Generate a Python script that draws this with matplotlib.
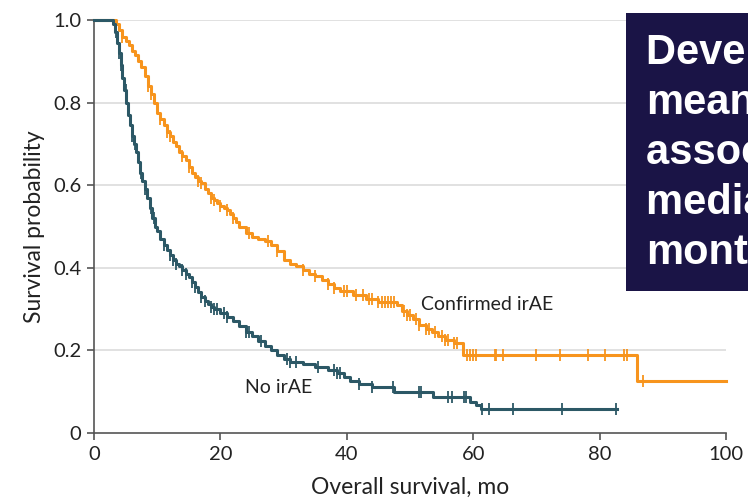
import numpy as np
import matplotlib
matplotlib.use("Agg")
from matplotlib import pyplot as plt
from matplotlib.patches import Rectangle

# Kaplan-Meier step knots (time in months, survival probability)
irae_t = [0, 3.5, 4.0, 4.5, 5.0, 5.5, 6.0, 6.5, 7.0, 7.5, 8.0, 8.5, 9.0, 9.5, 10.0, 10.5,
          11.0, 11.5, 12.0, 12.5, 13.0, 13.5, 14.0, 14.5, 15.0, 15.5, 16.0, 16.5, 17.0,
          17.5, 18.0, 18.5, 19.0, 19.5, 20.0, 20.5, 21.0, 21.5, 22.0, 22.5, 23.0, 24.0,
          25.0, 26.0, 27.0, 28.0, 29.0, 30.0, 31.0, 32.0, 33.0, 34.0, 35.0, 36.0, 37.0,
          38.0, 39.0, 41.0, 43.0, 45.0, 48.0, 48.7, 49.5, 50.5, 51.5, 52.5, 53.5, 54.5,
          55.5, 57.0, 58.4, 85.9, 100.0]
irae_s = [1.0, 0.99, 0.975, 0.96, 0.95, 0.94, 0.925, 0.915, 0.90, 0.885, 0.865, 0.84,
          0.82, 0.80, 0.775, 0.76, 0.745, 0.73, 0.72, 0.705, 0.695, 0.68, 0.67, 0.66,
          0.645, 0.63, 0.62, 0.61, 0.605, 0.59, 0.58, 0.57, 0.565, 0.557, 0.55, 0.545,
          0.54, 0.53, 0.52, 0.51, 0.50, 0.485, 0.475, 0.47, 0.465, 0.455, 0.44, 0.42,
          0.41, 0.405, 0.395, 0.385, 0.38, 0.37, 0.36, 0.35, 0.345, 0.335, 0.325, 0.318,
          0.31, 0.295, 0.285, 0.275, 0.262, 0.252, 0.245, 0.235, 0.225, 0.218, 0.189,
          0.126, 0.126]
irae_cens = [4.5, 8.5, 9.0, 10.5, 11.5, 12.0, 14.0, 15.0, 16.5, 17.0, 18.5, 19.0, 20.0,
             21.0, 22.0, 24.5, 27.5, 29.0, 33.0, 35.0, 37.0, 38.0, 39.5, 40.0, 41.5,
             42.5, 43.5, 44.0, 45.0, 45.5, 46.0, 46.5, 47.0, 47.5, 49.0, 49.5, 50.0,
             51.0, 51.5, 52.5, 53.0, 54.0, 55.0, 55.5, 56.0, 57.0, 57.5, 59.0, 59.5,
             60.0, 60.4, 63.4, 63.6, 64.7, 69.9, 73.7, 78.2, 80.9, 83.9, 84.3, 86.9]

no_t = [0, 3.0, 3.3, 3.6, 3.9, 4.2, 4.5, 4.8, 5.1, 5.4, 5.7, 6.0, 6.3, 6.6, 7.0, 7.3,
        7.6, 8.0, 8.4, 8.8, 9.2, 9.6, 10.0, 10.5, 11.0, 11.5, 12.0, 12.5, 13.0, 13.5,
        14.0, 14.5, 15.0, 15.5, 16.0, 16.5, 17.0, 17.5, 18.0, 18.5, 19.0, 20.0, 21.0,
        22.0, 23.0, 24.0, 25.0, 26.0, 27.0, 28.0, 29.0, 30.0, 31.0, 33.0, 35.0, 37.0,
        38.5, 39.5, 40.5, 42.0, 44.0, 47.5, 53.6, 59.5, 60.5, 61.2, 82.8]
no_s = [1.0, 0.99, 0.97, 0.945, 0.92, 0.89, 0.86, 0.83, 0.80, 0.77, 0.745, 0.72, 0.70,
        0.68, 0.655, 0.63, 0.61, 0.59, 0.57, 0.545, 0.52, 0.50, 0.488, 0.47, 0.455,
        0.443, 0.43, 0.42, 0.41, 0.405, 0.395, 0.385, 0.378, 0.365, 0.353, 0.342, 0.33,
        0.32, 0.312, 0.305, 0.30, 0.29, 0.282, 0.27, 0.258, 0.245, 0.235, 0.222, 0.21,
        0.20, 0.19, 0.178, 0.173, 0.168, 0.16, 0.152, 0.145, 0.135, 0.125, 0.118, 0.112,
        0.10, 0.088, 0.075, 0.068, 0.058, 0.058]
no_cens = [3.5, 4.0, 4.3, 5.0, 6.0, 6.5, 7.5, 8.0, 9.0, 9.5, 11.0, 12.0, 12.5, 13.0,
           14.0, 14.5, 15.5, 16.0, 17.0, 17.5, 18.5, 19.0, 19.5, 20.5, 21.0, 24.0, 24.5,
           26.5, 30.5, 31.0, 32.0, 35.5, 38.0, 38.5, 39.0, 42.0, 44.0, 47.3, 51.4, 51.7,
           56.0, 56.6, 58.5, 58.9, 61.4, 62.5, 66.3, 74.1, 82.6]

xticks = [0, 20, 40, 60, 80, 100]
yticks = [0, 0.2, 0.4, 0.6, 0.8, 1.0]
ytick_labels = ["0", "0.2", "0.4", "0.6", "0.8", "1.0"]

orange = "#F7941D"
teal = "#2C5866"
axis_col = "#555555"
label_font = ["Lato", "DejaVu Sans"]

fig = plt.figure(figsize=(7.48, 5.03), dpi=100)
ax = fig.add_axes([94 / 748, 1 - 433 / 503, 632 / 748, 413 / 503])


def km(t, s, cens, color):
    t = np.array(t)
    s = np.array(s)
    ax.step(t, s, where="post", color=color, lw=2.2, clip_on=False, zorder=3)
    c = np.array(cens)
    idx = np.searchsorted(t, c, side="right") - 1
    ax.plot(c, s[idx], ls="none", marker="|", ms=8, mew=1.3, color=color,
            clip_on=False, zorder=3)


km(irae_t, irae_s, irae_cens, orange)
km(no_t, no_s, no_cens, teal)

ax.set_xlim(0, 100)
ax.set_ylim(0, 1.0)
ax.set_xticks(xticks)
ax.set_yticks(yticks)
ax.set_yticklabels(ytick_labels)
for y in yticks[1:]:
    ax.axhline(y, color="#dcdcdc", lw=1.2, zorder=1)

for side in ["top", "right"]:
    ax.spines[side].set_visible(False)
for side in ["left", "bottom"]:
    ax.spines[side].set_color(axis_col)
    ax.spines[side].set_linewidth(1.2)
ax.tick_params(direction="out", length=5, width=1.2, color=axis_col,
               labelsize=14.5, labelcolor="#222222", pad=4)
for lab in ax.get_xticklabels() + ax.get_yticklabels():
    lab.set_family(label_font)

ax.set_xlabel("Overall survival, mo", fontsize=16.5, family=label_font,
              color="#222222", labelpad=10)
ax.set_ylabel("Survival probability", fontsize=16.5, family=label_font,
              color="#222222", labelpad=6)

ax.text(51.8, 0.312, "Confirmed irAE", fontsize=14, family=label_font,
        color="#222222", va="center", ha="left")
ax.text(23.9, 0.11, "No irAE", fontsize=14, family=label_font,
        color="#222222", va="center", ha="left")

# dark callout box, cut off at the right edge like the reference
fig.patches.append(Rectangle((626 / 748, 1 - 291 / 503), 0.3, 278 / 503,
                             transform=fig.transFigure, facecolor="#1A1446",
                             edgecolor="none", zorder=5))
fig.text(646 / 748, 1 - 33 / 503,
         "Developing irAEs was\nmeaningfully\nassociated with longer\nmedian survival, in\nmonths",
         fontsize=30, fontweight="bold", color="white", va="top", ha="left",
         family=["Liberation Sans", "DejaVu Sans"], linespacing=1.32, zorder=6)

fig.savefig("out.png", dpi=100)
